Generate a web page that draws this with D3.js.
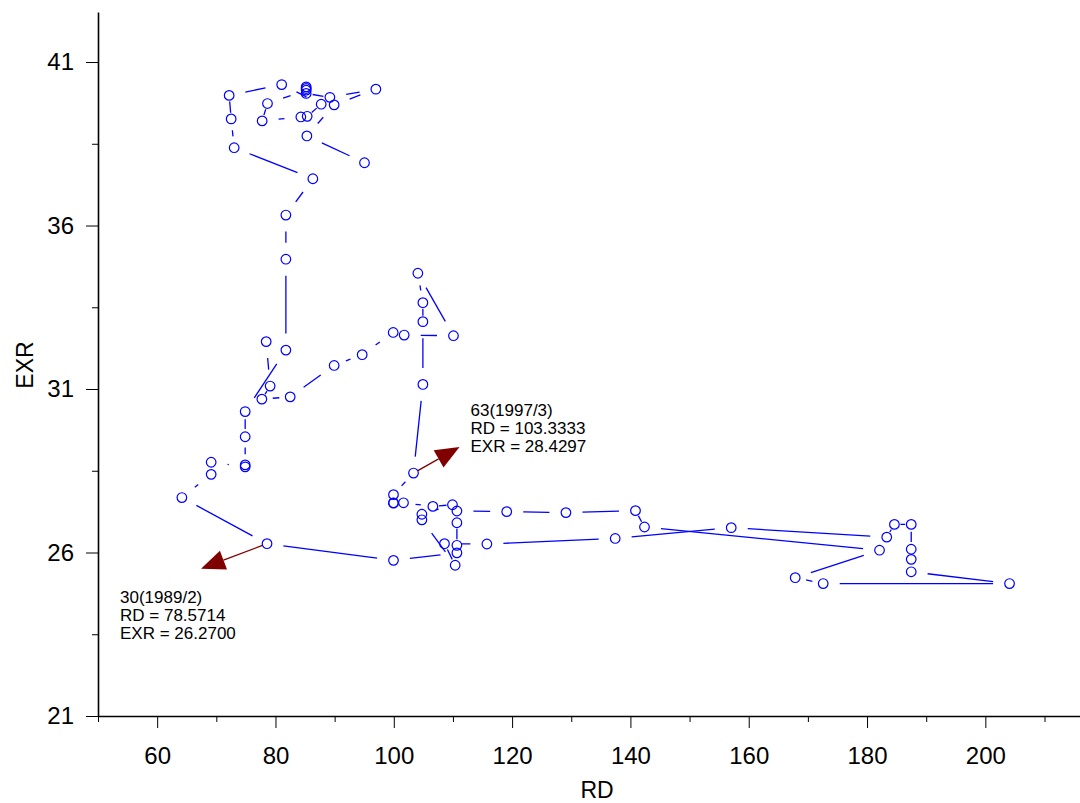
<!DOCTYPE html>
<html>
<head>
<meta charset="utf-8">
<script src="https://cdn.jsdelivr.net/npm/d3@7"></script>
<style>
  body { margin: 0; background: #fff; }
  svg { display: block; font-family: "Liberation Sans", Arial, sans-serif; }
</style>
</head>
<body>
<svg id="chart" width="1080" height="803"></svg>
<script>
// Quarterly observations, 1982Q1 onwards
const startYear = 1982;
const rd = [
  95.05, 85.31, 89.92, 96.97, 89.20, 85.19, 85.19, 85.19, 85.19, 78.65,
  77.75, 84.29, 85.36, 87.73, 81.05, 72.17, 72.51, 73.02, 86.32, 81.76,
  81.76, 81.76, 74.88, 74.88, 74.88, 74.88, 69.13, 69.13, 64.18, 78.5714,
  99.95, 110.67, 110.67, 110.67, 110.67, 119.09, 129.10, 140.86, 142.38, 182.11,
  167.86, 172.59, 204.09, 187.47, 187.47, 187.47, 187.47, 184.63, 183.33, 157.04,
  137.43, 115.74, 108.57, 110.38, 104.75, 104.75, 109.92, 106.61, 101.64, 99.95,
  99.95, 99.95, 103.3333, 104.92, 104.92, 104.92, 104.07, 110.09, 101.76, 99.90,
  94.66, 89.92, 82.49, 77.70, 79.10, 78.43
];
const exr = [
  37.92, 38.74, 39.69, 40.17, 39.92, 40.04, 40.24, 40.19, 40.14, 39.73,
  39.20, 39.32, 39.34, 39.71, 40.31, 39.98, 39.26, 38.38, 37.43, 36.32,
  34.97, 32.19, 30.31, 29.54, 28.68, 28.62, 28.76, 28.39, 27.68, 26.27,
  25.76, 25.99, 26.22, 26.91, 27.27, 27.25, 27.22, 27.28, 26.78, 26.07,
  25.23, 25.05, 25.05, 25.41, 25.79, 26.10, 26.86, 26.86, 26.47, 26.76,
  26.43, 26.26, 26.27, 25.61, 27.00, 27.17, 27.46, 27.41, 27.52, 27.52,
  27.51, 27.77, 28.4297, 31.14, 33.06, 33.64, 34.54, 32.63, 32.65, 32.73,
  32.05, 31.72, 30.76, 30.69, 31.09, 32.45
];
const xTicks = [60, 80, 100, 120, 140, 160, 180, 200];
const xMinor = [50, 70, 90, 110, 130, 150, 170, 190, 210];
const yTicks = [21, 26, 31, 36, 41];
const yMinor = [23.5, 28.5, 33.5, 38.5];
const labelledObs = [30, 63];

// annotation layout (pixel offsets from the observation)
const noteLayout = {
  30: { tip: [-66, 25], text: [-147, 59] },
  63: { tip: [46, -26], text: [57, -57] }
};

const blue = "#0000ff";
const maroon = "#800000";

const svg = d3.select("#chart");
const x = d3.scaleLinear().domain([50, 216]).range([98, 1080]);
const y = d3.scaleLinear().domain([21, 42.53]).range([716, 12]);

const obs = rd.map((v, i) => ({
  n: i + 1,
  rd: v,
  exr: exr[i],
  year: startYear + Math.floor(i / 4),
  q: (i % 4) + 1
}));

// ---- axes ----
const gx = svg.append("g").attr("transform", "translate(0,716)");
gx.call(d3.axisBottom(x).tickValues(xTicks).tickSize(12).tickSizeOuter(0).tickFormat(d3.format("d")));
gx.append("g").call(d3.axisBottom(x).tickValues(xMinor).tickSize(6).tickSizeOuter(0).tickFormat(""))
  .select(".domain").remove();

const gy = svg.append("g").attr("transform", "translate(98,0)");
gy.call(d3.axisLeft(y).tickValues(yTicks).tickSize(12).tickSizeOuter(0).tickFormat(d3.format("d")));
gy.append("g").call(d3.axisLeft(y).tickValues(yMinor).tickSize(6).tickSizeOuter(0).tickFormat(""))
  .select(".domain").remove();

svg.selectAll(".domain").attr("stroke", "#000").attr("stroke-width", 1.6);
svg.selectAll(".tick line").attr("stroke", "#000").attr("stroke-width", 1);
gx.selectAll(".tick text").attr("font-size", 24).attr("fill", "#000")
  .attr("font-family", "'Liberation Sans', Arial, sans-serif").attr("dy", null).attr("y", 48);
gy.selectAll(".tick text").attr("font-size", 24).attr("fill", "#000")
  .attr("font-family", "'Liberation Sans', Arial, sans-serif").attr("x", -24);

svg.append("text").attr("x", 597).attr("y", 798).attr("text-anchor", "middle")
  .attr("font-size", 23).text("RD");
svg.append("text").attr("transform", "translate(33,365) rotate(-90)").attr("text-anchor", "middle")
  .attr("font-size", 23).text("EXR");

// ---- connecting segments, trimmed back from each marker ----
const segs = [];
for (let i = 0; i < obs.length - 1; i++) {
  const x0 = x(obs[i].rd), y0 = y(obs[i].exr);
  const x1 = x(obs[i + 1].rd), y1 = y(obs[i + 1].exr);
  const len = Math.hypot(x1 - x0, y1 - y0);
  const gap = Math.max(6, Math.min(16.5, len - 17.5));
  if (len <= 2 * gap + 0.5) continue;
  const ux = (x1 - x0) / len, uy = (y1 - y0) / len;
  segs.push([x0 + ux * gap, y0 + uy * gap, x1 - ux * gap, y1 - uy * gap]);
}
svg.append("g").selectAll("line").data(segs).join("line")
  .attr("x1", d => d[0]).attr("y1", d => d[1])
  .attr("x2", d => d[2]).attr("y2", d => d[3])
  .attr("stroke", blue).attr("stroke-width", 1.3);

// ---- markers ----
svg.append("g").selectAll("circle").data(obs).join("circle")
  .attr("cx", d => x(d.rd)).attr("cy", d => y(d.exr)).attr("r", 4.8)
  .attr("fill", "none").attr("stroke", blue).attr("stroke-width", 1.2);

// ---- point annotations ----
labelledObs.forEach(n => {
  const d = obs[n - 1];
  const lay = noteLayout[n];
  const px = x(d.rd), py = y(d.exr);
  const tx = px + lay.tip[0], ty = py + lay.tip[1];
  const L = Math.hypot(lay.tip[0], lay.tip[1]);
  const ux = lay.tip[0] / L, uy = lay.tip[1] / L;
  const headLen = 24, halfW = 10;
  const bx = tx - ux * headLen, by = ty - uy * headLen;
  svg.append("line")
    .attr("x1", px + ux * 5).attr("y1", py + uy * 5)
    .attr("x2", bx).attr("y2", by)
    .attr("stroke", maroon).attr("stroke-width", 1.3);
  svg.append("path")
    .attr("d", `M${tx},${ty}L${bx - uy * halfW},${by + ux * halfW}L${bx + uy * halfW},${by - ux * halfW}Z`)
    .attr("fill", maroon);
  const lines = [
    `${d.n}(${d.year}/${d.q})`,
    `RD = ${d.rd.toFixed(4)}`,
    `EXR = ${d.exr.toFixed(4)}`
  ];
  const t = svg.append("text").attr("font-size", 17).attr("fill", "#000");
  lines.forEach((s, k) => {
    t.append("tspan").attr("x", px + lay.text[0]).attr("y", py + lay.text[1] + k * 18).text(s);
  });
});
</script>
</body>
</html>
